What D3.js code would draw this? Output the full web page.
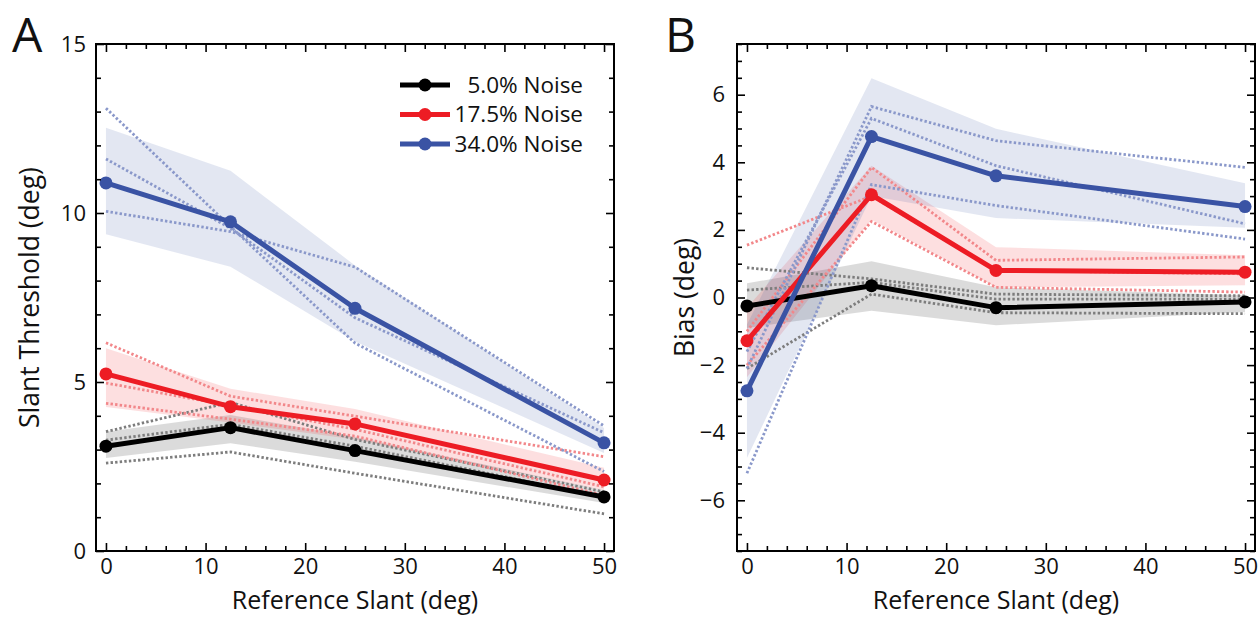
<!DOCTYPE html>
<html>
<head>
<meta charset="utf-8">
<script src="https://cdn.jsdelivr.net/npm/d3@7"></script>
<style>
  body { margin: 0; background: #fff; }
  svg text { font-family: "Open Sans", "DejaVu Sans", sans-serif; fill: #111; }
</style>
</head>
<body>
<div id="chart"></div>
<script>
// reference slants shared by both panels
const slants = [0, 12.5, 25, 50];
const noiseLabels = ["5.0% Noise", "17.5% Noise", "34.0% Noise"];
const noiseColors = ["#000000", "#ED1C24", "#3A53A4"];
const dotColors = ["#7d7d7d", "#F2878A", "#8A98CA"];
const bandColors = ["rgba(0,0,0,0.14)", "rgba(240,40,50,0.15)", "rgba(60,85,165,0.14)"];

// panel A: slant thresholds
const threshMean = [
    [3.10, 3.65, 2.97, 1.60],
    [5.24, 4.27, 3.76, 2.10],
    [10.89, 9.74, 7.18, 3.20]
];
const threshLow = [
    [2.75, 3.19, 2.64, 1.42],
    [4.26, 3.80, 3.30, 1.80],
    [9.37, 8.41, 6.20, 2.90]
];
const threshHigh = [
    [3.53, 4.02, 3.38, 1.80],
    [6.00, 4.80, 4.20, 2.46],
    [12.52, 11.25, 8.45, 3.64]
];
const threshSubjects = [
    [[3.53, 4.40, 3.30, 1.75], [3.28, 3.75, 3.10, 1.60], [2.60, 2.93, 2.30, 1.10]],
    [[6.16, 4.58, 3.99, 2.79], [4.97, 4.30, 3.60, 1.90], [4.37, 3.90, 3.40, 1.65]],
    [[13.10, 9.60, 6.15, 2.35], [11.60, 9.55, 6.90, 3.50], [10.05, 9.45, 8.40, 3.70]]
];

// panel B: bias
const biasMean = [
    [-0.25, 0.35, -0.30, -0.13],
    [-1.28, 3.04, 0.80, 0.75],
    [-2.76, 4.76, 3.60, 2.69]
];
const biasLow = [
    [-0.90, -0.39, -0.82, -0.43],
    [-2.36, 2.30, 0.30, 0.36],
    [-4.75, 3.00, 2.35, 2.06]
];
const biasHigh = [
    [0.42, 1.07, 0.30, 0.07],
    [-0.30, 3.90, 1.49, 1.25],
    [-0.80, 6.49, 4.99, 3.38]
];
const biasSubjects = [
    [[0.88, 0.55, 0.10, 0.05], [0.22, 0.45, -0.05, -0.05], [-2.10, 0.10, -0.45, -0.48]],
    [[1.55, 3.00, 0.80, 0.70], [-1.00, 3.85, 1.10, 1.20], [-2.00, 2.25, 0.30, 0.16]],
    [[-2.10, 5.65, 4.64, 3.85], [-1.60, 5.30, 3.90, 2.18], [-5.20, 3.34, 2.72, 1.73]]
];

const threshTicks = [0, 5, 10, 15];
const biasTicks = [-6, -4, -2, 0, 2, 4, 6];
const slantTicks = [0, 10, 20, 30, 40, 50];

const svg = d3.select("#chart").append("svg")
    .attr("width", 1260)
    .attr("height", 617);

function drawPanel(opt) {
    const g = svg.append("g").attr("transform", `translate(${opt.left},${opt.top})`);
    const w = opt.width, h = opt.height;

    const x = d3.scaleLinear().domain([-1, 51]).range([0, w]);
    const y = d3.scaleLinear().domain(opt.yDomain).range([h, 0]);

    // shaded bands
    opt.mean.forEach((m, i) => {
        const area = d3.area()
            .x((d, j) => x(slants[j]))
            .y0((d, j) => y(opt.low[i][j]))
            .y1((d, j) => y(opt.high[i][j]));
        g.append("path")
            .datum(m)
            .attr("d", area)
            .attr("fill", bandColors[i]);
    });

    // individual subject lines
    const line = d3.line().x((d, j) => x(slants[j])).y(d => y(d));
    opt.subjects.forEach((set, i) => {
        set.forEach(s => {
            g.append("path")
                .datum(s)
                .attr("d", line)
                .attr("fill", "none")
                .attr("stroke", dotColors[i])
                .attr("stroke-width", 2.8)
                .attr("stroke-dasharray", "2.4,2.2");
        });
    });

    // mean lines with markers
    opt.mean.forEach((m, i) => {
        g.append("path")
            .datum(m)
            .attr("d", line)
            .attr("fill", "none")
            .attr("stroke", noiseColors[i])
            .attr("stroke-width", 5)
            .attr("stroke-linejoin", "round");
        g.selectAll(null)
            .data(m)
            .enter().append("circle")
            .attr("cx", (d, j) => x(slants[j]))
            .attr("cy", d => y(d))
            .attr("r", 6.5)
            .attr("fill", noiseColors[i]);
    });

    // axes, ticks pointing inward on all four sides
    const styleAxis = sel => {
        sel.select(".domain").remove();
        sel.selectAll("line").attr("stroke", "#000").attr("stroke-width", 1.6);
        sel.selectAll("text").style("font-size", "22px").attr("fill", "#111");
    };
    const xMinorTicks = d3.range(0, 51, 2).filter(v => v % 10 !== 0);

    g.append("g").attr("transform", `translate(0,${h})`)
        .call(d3.axisBottom(x).tickValues(slantTicks).tickSize(-8).tickPadding(7))
        .call(styleAxis);
    g.append("g").attr("transform", `translate(0,${h})`)
        .call(d3.axisBottom(x).tickValues(xMinorTicks).tickSize(-5).tickFormat(""))
        .call(styleAxis);
    g.append("g")
        .call(d3.axisTop(x).tickValues(slantTicks).tickSize(-8).tickFormat(""))
        .call(styleAxis);
    g.append("g")
        .call(d3.axisTop(x).tickValues(xMinorTicks).tickSize(-5).tickFormat(""))
        .call(styleAxis);

    g.append("g")
        .call(d3.axisLeft(y).tickValues(opt.yTicks).tickSize(-8).tickPadding(opt.yPad))
        .call(styleAxis);
    g.append("g")
        .call(d3.axisLeft(y).tickValues(opt.yMinor).tickSize(-5).tickFormat(""))
        .call(styleAxis);
    g.append("g").attr("transform", `translate(${w},0)`)
        .call(d3.axisRight(y).tickValues(opt.yTicks).tickSize(-8).tickFormat(""))
        .call(styleAxis);
    g.append("g").attr("transform", `translate(${w},0)`)
        .call(d3.axisRight(y).tickValues(opt.yMinor).tickSize(-5).tickFormat(""))
        .call(styleAxis);

    g.append("rect")
        .attr("width", w)
        .attr("height", h)
        .attr("fill", "none")
        .attr("stroke", "#000")
        .attr("stroke-width", 2);

    // titles
    g.append("text")
        .attr("x", w / 2)
        .attr("y", h + 58)
        .attr("text-anchor", "middle")
        .style("font-size", "25px")
        .text("Reference Slant (deg)");

    g.append("text")
        .attr("transform", "rotate(-90)")
        .attr("x", -h / 2)
        .attr("y", opt.yTitleX)
        .attr("text-anchor", "middle")
        .style("font-size", "26.5px")
        .text(opt.yTitle);

    svg.append("text")
        .attr("x", opt.labelX)
        .attr("y", 52)
        .style("font-size", "48px")
        .text(opt.label);

    return { g, x, y };
}

const panelA = drawPanel({
    left: 96, top: 44, width: 518, height: 507,
    yDomain: [0, 15], yTicks: threshTicks,
    yMinor: d3.range(0, 16, 1).filter(v => v % 5 !== 0),
    yPad: 10, yTitleX: -57,
    mean: threshMean, low: threshLow, high: threshHigh, subjects: threshSubjects,
    yTitle: "Slant Threshold (deg)", label: "A", labelX: 12
});

drawPanel({
    left: 737, top: 44, width: 518, height: 507,
    yDomain: [-7.5, 7.5], yTicks: biasTicks,
    yMinor: d3.range(-7.5, 7.6, 0.5).filter(v => v % 2 !== 0),
    yPad: 12, yTitleX: -43,
    mean: biasMean, low: biasLow, high: biasHigh, subjects: biasSubjects,
    yTitle: "Bias (deg)", label: "B", labelX: 665
});

// legend inside panel A
const legend = panelA.g.selectAll(".legend")
    .data(noiseLabels)
    .enter().append("g")
    .attr("class", "legend")
    .attr("transform", (d, i) => `translate(0,${41 + i * 29.5})`);

legend.append("line")
    .attr("x1", 304).attr("x2", 354)
    .attr("stroke", (d, i) => noiseColors[i])
    .attr("stroke-width", 5);

legend.append("circle")
    .attr("cx", 329)
    .attr("r", 6.5)
    .attr("fill", (d, i) => noiseColors[i]);

legend.append("text")
    .attr("x", 487)
    .attr("dy", "0.35em")
    .attr("text-anchor", "end")
    .style("font-size", "22.5px")
    .text(d => d);
</script>
</body>
</html>
